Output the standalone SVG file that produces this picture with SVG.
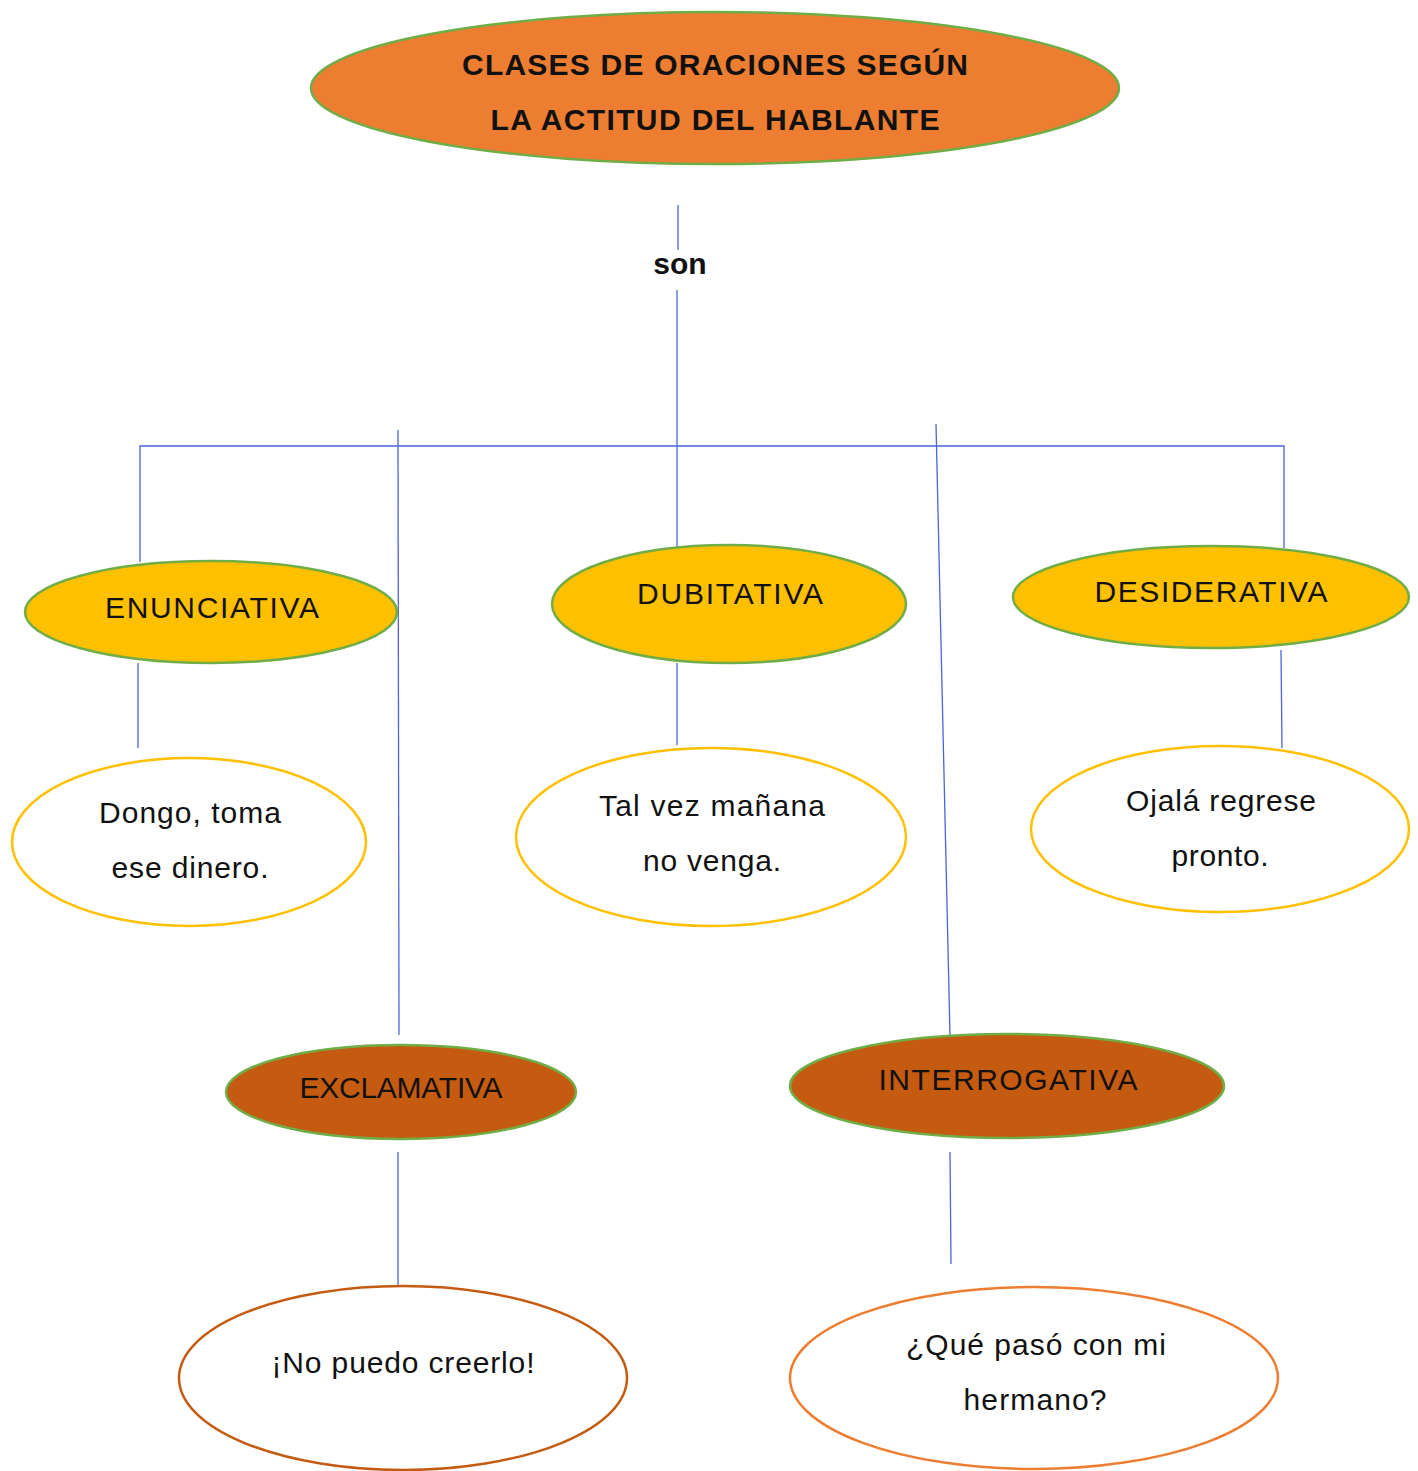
<svg xmlns="http://www.w3.org/2000/svg" width="1418" height="1471" viewBox="0 0 1418 1471">
<style>
.ln{stroke:#4A67D6;stroke-width:1.3;fill:none}
.t{font-family:"Liberation Sans",Arial,sans-serif;font-size:30px;fill:#111;text-anchor:middle}
.b{font-weight:bold}
.main{fill:#ED7D31;stroke:#70AD47;stroke-width:2.5}
.yel{fill:#FFC000;stroke:#70AD47;stroke-width:2.5}
.brn{fill:#C55A11;stroke:#70AD47;stroke-width:2.5}
.ey{fill:#fff;stroke:#FFC000;stroke-width:2.5}
.eb{fill:#fff;stroke:#C55A11;stroke-width:2.5}
.eo{fill:#fff;stroke:#ED7D31;stroke-width:2.5}
</style>
<rect width="1418" height="1471" fill="#fff"/>
<g id="connectors">
<line class="ln" x1="678" y1="205" x2="678" y2="250"/>
<line class="ln" x1="677" y1="290" x2="677" y2="548"/>
<polyline class="ln" points="140,562 140,446 1284,446 1284,548"/>
<line class="ln" x1="398" y1="430" x2="399" y2="1035"/>
<line class="ln" x1="936" y1="424" x2="950" y2="1036"/>
<line class="ln" x1="138" y1="663" x2="138" y2="748"/>
<line class="ln" x1="677" y1="663" x2="677" y2="745"/>
<line class="ln" x1="1281" y1="650" x2="1282" y2="748"/>
<line class="ln" x1="398" y1="1152" x2="398" y2="1285"/>
<line class="ln" x1="950" y1="1152" x2="951" y2="1264"/>
</g>
<g id="title">
<ellipse class="main" cx="715" cy="88" rx="404" ry="76"/>
<text class="t b" x="715" y="75" font-size="29" textLength="506" lengthAdjust="spacing">CLASES DE ORACIONES SEGÚN</text>
<text class="t b" x="715" y="130" font-size="29" textLength="449" lengthAdjust="spacing">LA ACTITUD DEL HABLANTE</text>
</g>
<g id="son">
<text class="t b" x="680" y="274" font-size="31">son</text>
</g>
<g id="enunciativa">
<ellipse class="yel" cx="211" cy="612" rx="186" ry="51"/>
<text class="t" x="212" y="618" textLength="214" lengthAdjust="spacing">ENUNCIATIVA</text>
</g>
<g id="ej-enunciativa">
<ellipse class="ey" cx="189" cy="842" rx="177" ry="84"/>
<text class="t" x="190" y="823" textLength="182" lengthAdjust="spacing">Dongo, toma</text>
<text class="t" x="190" y="878" textLength="157" lengthAdjust="spacing">ese dinero.</text>
</g>
<g id="dubitativa">
<ellipse class="yel" cx="729" cy="604" rx="177" ry="59"/>
<text class="t" x="730" y="604" textLength="186" lengthAdjust="spacing">DUBITATIVA</text>
</g>
<g id="ej-dubitativa">
<ellipse class="ey" cx="711" cy="837" rx="195" ry="89"/>
<text class="t" x="712" y="816" textLength="226" lengthAdjust="spacing">Tal vez mañana</text>
<text class="t" x="712" y="871" textLength="138" lengthAdjust="spacing">no venga.</text>
</g>
<g id="desiderativa">
<ellipse class="yel" cx="1211" cy="597" rx="198" ry="51"/>
<text class="t" x="1211" y="602" textLength="233" lengthAdjust="spacing">DESIDERATIVA</text>
</g>
<g id="ej-desiderativa">
<ellipse class="ey" cx="1220" cy="829" rx="189" ry="83"/>
<text class="t" x="1221" y="811" textLength="190" lengthAdjust="spacing">Ojalá regrese</text>
<text class="t" x="1220" y="866" textLength="97" lengthAdjust="spacing">pronto.</text>
</g>
<g id="exclamativa">
<ellipse class="brn" cx="401" cy="1092" rx="175" ry="47"/>
<text class="t" x="401" y="1098" textLength="203" lengthAdjust="spacing">EXCLAMATIVA</text>
</g>
<g id="ej-exclamativa">
<ellipse class="eb" cx="403" cy="1378" rx="224" ry="92"/>
<text class="t" x="403" y="1373" textLength="263" lengthAdjust="spacing">¡No puedo creerlo!</text>
</g>
<g id="interrogativa">
<ellipse class="brn" cx="1007" cy="1086" rx="217" ry="52"/>
<text class="t" x="1008" y="1090" textLength="259" lengthAdjust="spacing">INTERROGATIVA</text>
</g>
<g id="ej-interrogativa">
<ellipse class="eo" cx="1034" cy="1378" rx="244" ry="91"/>
<text class="t" x="1036" y="1355" textLength="260" lengthAdjust="spacing">¿Qué pasó con mi</text>
<text class="t" x="1035" y="1410" textLength="143" lengthAdjust="spacing">hermano?</text>
</g>
</svg>
